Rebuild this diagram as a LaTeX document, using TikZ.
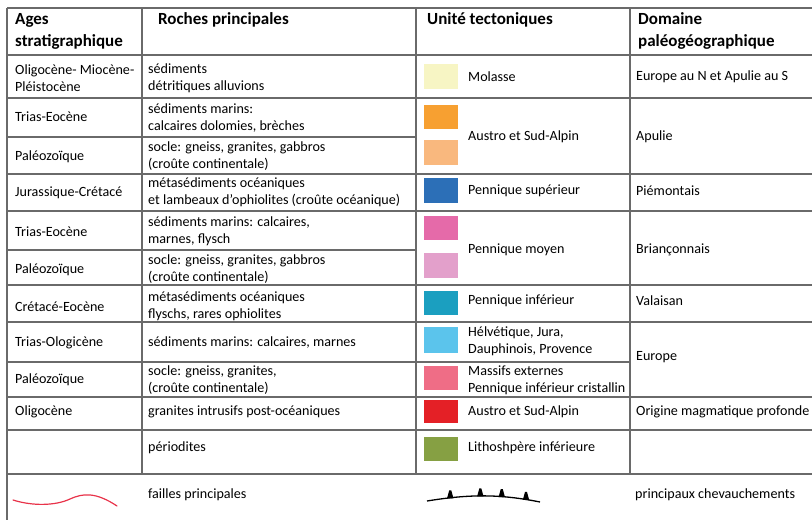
\documentclass[tikz,border=0pt]{standalone}
\usepackage{fontspec}
\setmainfont{Carlito}
\usetikzlibrary{calc}
\definecolor{gridc}{HTML}{6A6A6A}
\definecolor{cmol}{HTML}{F7F5C4}
\definecolor{cor}{HTML}{F7A031}
\definecolor{clor}{HTML}{F9B87E}
\definecolor{cblue}{HTML}{2C6FB7}
\definecolor{cpink}{HTML}{E56AA9}
\definecolor{clpink}{HTML}{E3A0CB}
\definecolor{cteal}{HTML}{1B9FC0}
\definecolor{clblue}{HTML}{5BC4EC}
\definecolor{csalm}{HTML}{EF6D86}
\definecolor{cred}{HTML}{E42026}
\definecolor{cgreen}{HTML}{86A043}
\definecolor{cfault}{HTML}{E8334A}
\tikzset{
  grid/.style={draw=gridc, line width=1.7pt},
  txt/.style={anchor=west, align=left, inner sep=0pt, font=\fontsize{14.1}{17}\selectfont, text=black},
  hdr/.style={anchor=west, align=left, inner sep=0pt, font=\fontsize{17}{22}\selectfont\bfseries, text=black},
}
\begin{document}
\begin{tikzpicture}[x=1pt,y=-1pt]
\useasboundingbox (0,0) rectangle (812,520);
% grid lines
\draw[grid] (7,8) -- (812,8);
\foreach \yy in {55,98,174,211,285,322,397,430,474}
  \draw[grid] (7,\yy) -- (812,\yy);
\foreach \yy in {137,250}
  \draw[grid] (7,\yy) -- (416,\yy);
\draw[grid] (7,362) -- (630,362);
\draw[grid] (7,8) -- (7,520);
\foreach \xx in {142,416,630}
  \draw[grid] (\xx,8) -- (\xx,474);
% swatches
\fill[cmol]   (424,64)  rectangle (458,89);
\fill[cor]    (424,105) rectangle (458,129);
\fill[clor]   (424,140) rectangle (458,165);
\fill[cblue]  (424,178) rectangle (458,203);
\fill[cpink]  (424,216) rectangle (458,240);
\fill[clpink] (424,253) rectangle (458,278);
\fill[cteal]  (424,291) rectangle (458,315);
\fill[clblue] (424,327) rectangle (458,353);
\fill[csalm]  (424,366) rectangle (458,390);
\fill[cred]   (424,400) rectangle (458,423);
\fill[cgreen] (424,437) rectangle (458,461);
% headers
\node[hdr] (h1) at (15,31) {Ages\\stratigraphique};
\node[hdr] (h2) at (158,20) {Roches principales};
\node[hdr] (h3) at (427,20) {Unité tectoniques};
\node[hdr] (h4) at (638,31) {Domaine\\paléogéographique};
% column 1
\node[txt] (a1) at (15,78) {Oligocène- Miocène-\\Pléistocène};
\node[txt] (a2) at (15,117) {Trias-Eocène};
\node[txt] (a3) at (15,157) {Paléozoïque};
\node[txt] (a4) at (15,193) {Jurassique-Crétacé};
\node[txt] (a5) at (15,232) {Trias-Eocène};
\node[txt] (a6) at (15,270) {Paléozoïque};
\node[txt] (a7) at (15,307) {Crétacé-Eocène};
\node[txt] (a8) at (15,343) {Trias-Ologicène};
\node[txt] (a9) at (15,380) {Paléozoïque};
\node[txt] (a10) at (15,412) {Oligocène};
% column 2
\node[txt] (b1) at (148,78) {sédiments\\détritiques alluvions};
\node[txt] (b2) at (148,118) {sédiments marins:\\calcaires dolomies, brèches};
\node[txt] (b3) at (148,156) {socle: gneiss, granites, gabbros\\(croûte continentale)};
\node[txt] (b4) at (148,192) {métasédiments océaniques\\et lambeaux d’ophiolites (croûte océanique)};
\node[txt] (b5) at (148,231) {sédiments marins: calcaires,\\marnes, flysch};
\node[txt] (b6) at (148,269) {socle: gneiss, granites, gabbros\\(croûte continentale)};
\node[txt] (b7) at (148,306) {métasédiments océaniques\\flyschs, rares ophiolites};
\node[txt] (b8) at (148,343) {sédiments marins: calcaires, marnes};
\node[txt] (b9) at (148,380) {socle: gneiss, granites,\\(croûte continentale)};
\node[txt] (b10) at (148,412) {granites intrusifs post-océaniques};
\node[txt] (b11) at (148,448) {périodites};
% column 3
\node[txt] (c1) at (468,77) {Molasse};
\node[txt] (c2) at (468,137) {Austro et Sud-Alpin};
\node[txt] (c3) at (468,191) {Pennique supérieur};
\node[txt] (c4) at (468,250) {Pennique moyen};
\node[txt] (c5) at (468,301) {Pennique inférieur};
\node[txt] (c6) at (468,341) {Hélvétique, Jura,\\Dauphinois, Provence};
\node[txt] (c7) at (468,380) {Massifs externes\\Pennique inférieur cristallin};
\node[txt] (c8) at (468,412) {Austro et Sud-Alpin};
\node[txt] (c9) at (468,448) {Lithoshpère inférieure};
% column 4
\node[txt] (d1) at (636,77) {Europe au N et Apulie au S};
\node[txt] (d2) at (636,137) {Apulie};
\node[txt] (d3) at (636,191) {Piémontais};
\node[txt] (d4) at (636,250) {Briançonnais};
\node[txt] (d5) at (636,301) {Valaisan};
\node[txt] (d6) at (636,357) {Europe};
\node[txt] (d7) at (636,412) {Origine magmatique profonde};
% legend
\coordinate (fA) at (13,500);
\coordinate (fB) at (117,506);
\draw[cfault, line width=1.2pt, line cap=round] (fA) .. controls (32,506) and (55,506) .. (70,499) .. controls (83,493) and (96,492) .. (fB);
\node[txt] (l1) at (148,495) {failles principales};
\coordinate (tA) at (427,501);
\coordinate (tB) at (540,502);
\draw[black, line width=1.3pt] (tA) .. controls (470,494) and (500,494) .. (tB)
  coordinate[pos=0.19] (t1) coordinate[pos=0.46] (t2) coordinate[pos=0.66] (t3) coordinate[pos=0.88] (t4);
\foreach \t in {t1,t2,t3,t4}
  \fill[black] ($(\t)+(-3.2,0.5)$) -- ($(\t)+(-1,-7.5)$) -- ($(\t)+(1,-7.5)$) -- ($(\t)+(3.2,0.5)$) -- cycle;
\node[txt] (l2) at (635,495) {principaux chevauchements};
\end{tikzpicture}
\end{document}
